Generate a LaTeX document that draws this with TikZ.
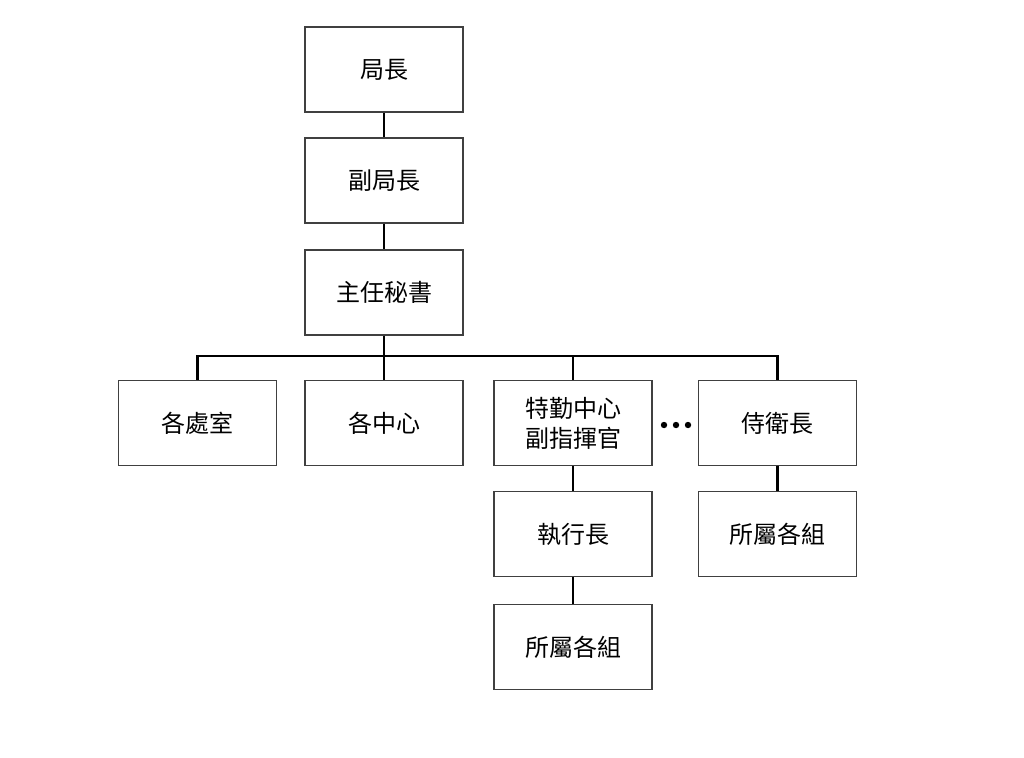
\documentclass[tikz,border=0pt]{standalone}
\usepackage{fontspec}
\newfontfamily\cjk{Noto Sans CJK TC}
\begin{document}
\begin{tikzpicture}[x=1pt,y=-1pt,
  box/.style={draw=black!75,line width=1.2pt,minimum width=158pt,minimum height=85pt,inner sep=0pt,font=\cjk\fontsize{24}{30}\selectfont,align=center,fill=white},
  conn/.style={line width=2.6pt}]
\useasboundingbox (0,0) rectangle (1024,757);
\node[box] (a) at (384,69.5) {局長};
\node[box] (b) at (384,180.5) {副局長};
\node[box] (c) at (384,292.5) {主任秘書};
\node[box] (d1) at (197.5,423) {各處室};
\node[box] (d2) at (384,423) {各中心};
\node[box] (d3) at (573,423) {特勤中心\\副指揮官};
\node[box] (d4) at (777.5,423) {侍衛長};
\node[box] (e3) at (573,534) {執行長};
\node[box] (e4) at (777.5,534) {所屬各組};
\node[box] (f3) at (573,647) {所屬各組};
\coordinate (bus) at (384,356);
\draw[conn] (a) -- (b);
\draw[conn] (b) -- (c);
\draw[conn] (c) -- (bus);
\draw[conn] (d1.north) |- (bus) -| (d4.north);
\draw[conn] (d2.north) -- (d2.north |- bus);
\draw[conn] (d3.north) -- (d3.north |- bus);
\draw[conn] (d3) -- (e3);
\draw[conn] (e3) -- (f3);
\draw[conn] (d4) -- (e4);
\foreach \x in {664,676,688} \fill (\x,425) circle (3.2pt);
\end{tikzpicture}
\end{document}
